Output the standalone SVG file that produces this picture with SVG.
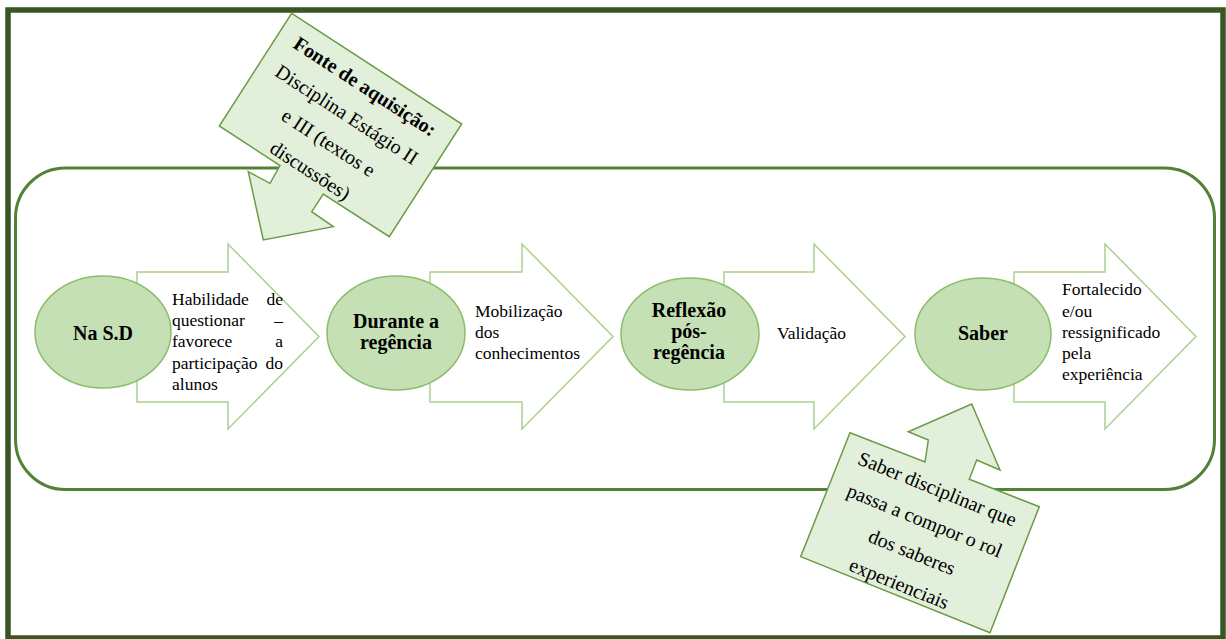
<svg xmlns="http://www.w3.org/2000/svg" width="1226" height="639" viewBox="0 0 1226 639">
<style>
.frame{fill:none;stroke:#375623;stroke-width:5.5}
.panel{fill:none;stroke:#538135;stroke-width:3}
.barrow{fill:#ffffff;stroke:#a9d18e;stroke-width:1.5;stroke-linejoin:miter}
.ell{fill:#c5e0b4;stroke:#8cbd6a;stroke-width:1.5}
.callout{fill:#e2efda;stroke:#6a9c45;stroke-width:1.5;stroke-linejoin:miter}
.bt{font-family:"Liberation Serif","Times New Roman",serif;font-weight:bold;font-size:20px;fill:#000;text-anchor:middle}
.rt{font-family:"Liberation Serif","Times New Roman",serif;font-size:17.5px;fill:#000}
.ct{font-family:"Liberation Serif","Times New Roman",serif;font-size:20px;fill:#000;text-anchor:middle}
</style>
<rect x="0" y="0" width="1226" height="639" fill="#ffffff"/>
<rect class="frame" x="8" y="10" width="1215" height="628"/>
<rect class="panel" x="15.5" y="168" width="1199" height="321.5" rx="50" ry="50"/>

<g id="connectors">
<polygon class="barrow" points="137,272 228,272 228,244 319,336.5 228,429 228,402 137,402"/>
<polygon class="barrow" points="430,272 522,272 522,244 613,336.5 522,429 522,402 430,402"/>
<polygon class="barrow" points="724,272 814,272 814,244 905,336.5 814,429 814,402 724,402"/>
<polygon class="barrow" points="1014,272 1105,272 1105,244 1196,336.5 1105,429 1105,402 1014,402"/>
</g>

<g id="label1">
<text class="rt" x="172" y="305">Habilidade</text><text class="rt" x="283" y="305" text-anchor="end">de</text>
<text class="rt" x="172" y="326">questionar</text><text class="rt" x="283" y="326" text-anchor="end">–</text>
<text class="rt" x="172" y="347">favorece</text><text class="rt" x="283" y="347" text-anchor="end">a</text>
<text class="rt" x="172" y="369">participação</text><text class="rt" x="283" y="369" text-anchor="end">do</text>
<text class="rt" x="172" y="390">alunos</text>
</g>
<g id="label2">
<text class="rt" x="475" y="317">Mobilização</text>
<text class="rt" x="475" y="338">dos</text>
<text class="rt" x="475" y="359">conhecimentos</text>
</g>
<g id="label3">
<text class="rt" x="777" y="339">Validação</text>
</g>
<g id="label4">
<text class="rt" x="1062" y="295">Fortalecido</text>
<text class="rt" x="1062" y="316.5">e/ou</text>
<text class="rt" x="1062" y="338">ressignificado</text>
<text class="rt" x="1062" y="359">pela</text>
<text class="rt" x="1062" y="380">experiência</text>
</g>

<g id="node-nasd">
<ellipse class="ell" cx="103" cy="332" rx="68" ry="56"/>
<text class="bt" x="103" y="340">Na S.D</text>
</g>
<g id="node-durante">
<ellipse class="ell" cx="396" cy="333" rx="69" ry="57"/>
<text class="bt" x="396" y="328">Durante a</text>
<text class="bt" x="396" y="349">regência</text>
</g>
<g id="node-reflexao">
<ellipse class="ell" cx="690" cy="334" rx="69" ry="56"/>
<text class="bt" x="689" y="317">Reflexão</text>
<text class="bt" x="689" y="338">pós-</text>
<text class="bt" x="689" y="359">regência</text>
</g>
<g id="node-saber">
<ellipse class="ell" cx="983" cy="334" rx="68" ry="56"/>
<text class="bt" x="983" y="340">Saber</text>
</g>

<g id="callout-fonte">
<polygon class="callout" points="291.7,13.3 461.7,124 389.3,236.7 323.3,194 311.7,211.7 333.3,226.7 263.3,240 248.3,171.7 270,183.3 280,165.5 219.3,126"/>
<g transform="translate(337.4,129) rotate(33)">
<text class="ct" x="0" y="-44" font-weight="bold">Fonte de aquisição:</text>
<text class="ct" x="0" y="-10.5">Disciplina Estágio II</text>
<text class="ct" x="0" y="23">e III (textos e</text>
<text class="ct" x="0" y="56.5">discussões)</text>
</g>
</g>

<g id="callout-saber">
<polygon class="callout" points="850,432.7 925,462 928.3,440 908.3,431.7 971.7,404 1000,470 976.7,460 969.3,479.3 1039.3,506.7 990,632.7 800.7,556.7"/>
<g transform="translate(918,537) rotate(22)">
<text class="ct" x="0" y="-45" font-size="21px">Saber disciplinar que</text>
<text class="ct" x="0" y="-11" font-size="21px">passa a compor o rol</text>
<text class="ct" x="0" y="23" font-size="21px">dos saberes</text>
<text class="ct" x="0" y="57" font-size="21px">experienciais</text>
</g>
</g>
</svg>
